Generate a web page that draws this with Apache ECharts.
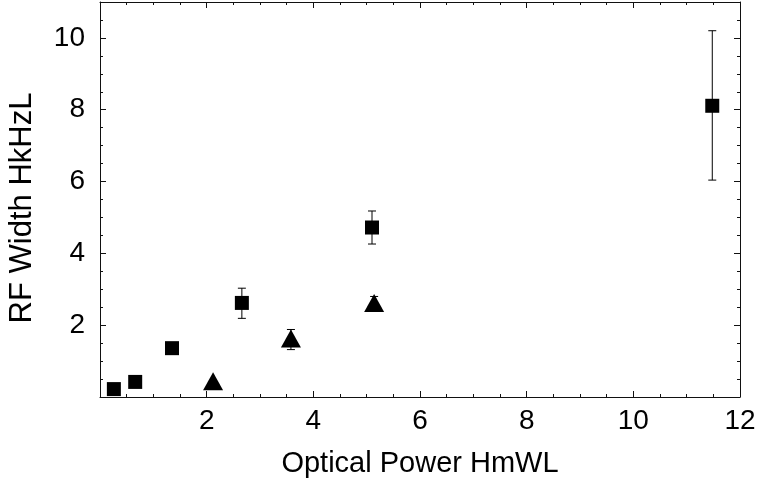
<!DOCTYPE html>
<html>
<head>
<meta charset="utf-8">
<script src="https://cdn.jsdelivr.net/npm/echarts@6/dist/echarts.min.js"></script>
<style>
  html, body { margin: 0; padding: 0; background: #fff; }
  #chart { width: 761px; height: 486px; }
</style>
</head>
<body>
<div id="chart"></div>
<script>
// Measured RF linewidth versus optical power, two sample sets
const squareX    = [0.26, 0.66, 1.35, 2.66, 5.10, 11.48];
const squareY    = [0.22, 0.42, 1.36, 2.62, 4.72, 8.11];
const squareLow  = [null, null, null, 2.19, 4.26, 6.04];
const squareHigh = [null, null, null, 3.03, 5.18, 10.20];

const triX    = [2.12, 3.58, 5.14];
const triY    = [0.44, 1.63, 2.62];
const triLow  = [null, 1.32, 2.40];
const triHigh = [null, 1.88, 2.80];

const xTickValues = [2, 4, 6, 8, 10, 12];
const yTickValues = [2, 4, 6, 8, 10];

const xTitle = 'Optical Power HmWL';
const yTitle = 'RF Width HkHzL';

const FONT = 'Liberation Sans, Arial, Helvetica, sans-serif';

function pairs(xs, ys) {
  return xs.map((x, i) => [x, ys[i]]);
}

function errorRows(xs, lows, highs) {
  const rows = [];
  xs.forEach((x, i) => {
    if (lows[i] != null && highs[i] != null) rows.push([x, lows[i], highs[i]]);
  });
  return rows;
}

function renderErrorBar(params, api) {
  const x = api.value(0);
  const lo = api.coord([x, api.value(1)]);
  const hi = api.coord([x, api.value(2)]);
  const half = 4;
  const style = { stroke: '#000', lineWidth: 1 };
  return {
    type: 'group',
    children: [
      { type: 'line', shape: { x1: lo[0], y1: lo[1], x2: hi[0], y2: hi[1] }, style: style },
      { type: 'line', shape: { x1: lo[0] - half, y1: lo[1], x2: lo[0] + half, y2: lo[1] }, style: style },
      { type: 'line', shape: { x1: hi[0] - half, y1: hi[1], x2: hi[0] + half, y2: hi[1] }, style: style }
    ]
  };
}

function tickFormatter(list) {
  return v => (list.indexOf(v) >= 0 ? String(v) : '');
}

const frameLine = { show: true, onZero: false, lineStyle: { color: '#111', width: 1 } };
const majorTick = { show: true, inside: true, length: 6, lineStyle: { color: '#111', width: 1 } };
const minorTick = { show: true, splitNumber: 4, length: 3, lineStyle: { color: '#111', width: 1 } };

const chart = echarts.init(document.getElementById('chart'), null, { renderer: 'canvas' });

chart.setOption({
  animation: false,
  backgroundColor: '#fff',
  grid: { left: 100, right: 21, top: 2, bottom: 89 },
  graphic: [
    {
      type: 'text', x: 22, y: 208, rotation: Math.PI / 2,
      style: {
        text: yTitle, fill: '#000', font: '31px ' + FONT,
        align: 'center', verticalAlign: 'middle'
      }
    }
  ],
  xAxis: [
    {
      type: 'value', min: 0, max: 12, interval: 2, position: 'bottom',
      axisLine: frameLine, axisTick: majorTick, minorTick: minorTick,
      splitLine: { show: false },
      axisLabel: {
        formatter: tickFormatter(xTickValues), color: '#000',
        fontSize: 28, fontFamily: FONT, margin: 10
      },
      name: xTitle, nameLocation: 'middle', nameGap: 52,
      nameTextStyle: { color: '#000', fontSize: 29, fontFamily: FONT }
    },
    {
      type: 'value', min: 0, max: 12, interval: 2, position: 'top',
      axisLine: frameLine, axisTick: majorTick, minorTick: minorTick,
      splitLine: { show: false }, axisLabel: { show: false }
    }
  ],
  yAxis: [
    {
      type: 'value', min: 0, max: 11, interval: 2, position: 'left',
      axisLine: frameLine, axisTick: majorTick, minorTick: minorTick,
      splitLine: { show: false },
      axisLabel: {
        formatter: tickFormatter(yTickValues), color: '#000',
        fontSize: 28, fontFamily: FONT, margin: 15
      }
    },
    {
      type: 'value', min: 0, max: 11, interval: 2, position: 'right',
      axisLine: frameLine, axisTick: majorTick, minorTick: minorTick,
      splitLine: { show: false }, axisLabel: { show: false }
    }
  ],
  series: [
    {
      name: 'square-err', type: 'custom', xAxisIndex: 0, yAxisIndex: 0,
      renderItem: renderErrorBar, data: errorRows(squareX, squareLow, squareHigh), z: 2
    },
    {
      name: 'triangle-err', type: 'custom', xAxisIndex: 0, yAxisIndex: 0,
      renderItem: renderErrorBar, data: errorRows(triX, triLow, triHigh), z: 2
    },
    {
      name: 'squares', type: 'scatter', xAxisIndex: 0, yAxisIndex: 0,
      symbol: 'rect', symbolSize: 14,
      itemStyle: { color: '#000', opacity: 1 },
      data: pairs(squareX, squareY), z: 3
    },
    {
      name: 'triangles', type: 'scatter', xAxisIndex: 0, yAxisIndex: 0,
      symbol: 'triangle', symbolSize: [20, 18],
      itemStyle: { color: '#000', opacity: 1 },
      data: pairs(triX, triY), z: 3
    }
  ]
});
</script>
</body>
</html>
